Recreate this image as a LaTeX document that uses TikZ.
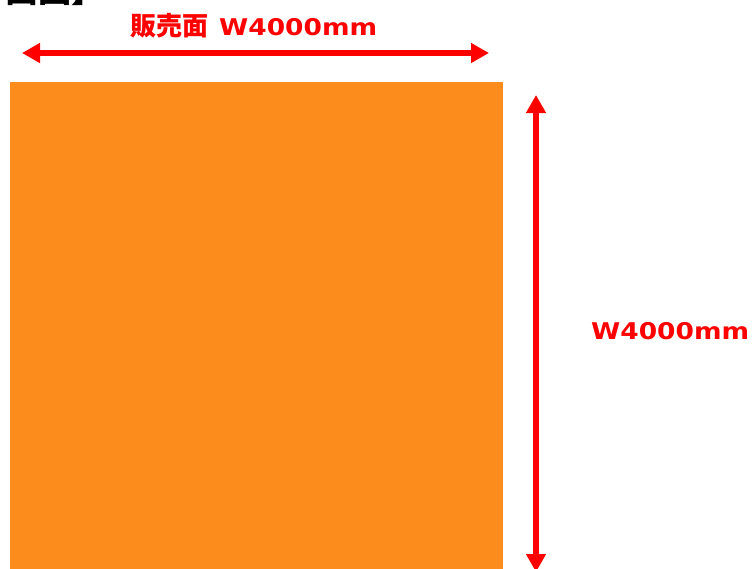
\documentclass[tikz,border=0pt]{standalone}
\usepackage{fontspec}
\setmainfont{DejaVu Sans}
\newfontfamily\jpfont{Noto Sans CJK JP}
\usetikzlibrary{arrows.meta}
\definecolor{boxorange}{RGB}{252,140,28}
\definecolor{dimred}{RGB}{255,0,0}
\tikzset{
  dimarrow/.style={draw=dimred, line width=6pt, {Triangle[length=18pt,width=19pt]}-{Triangle[length=18pt,width=19pt]}},
  dimlabel/.style={text=dimred, font=\fontsize{23}{26}\selectfont\bfseries, inner sep=0pt},
}
\begin{document}
\begin{tikzpicture}[x=1pt,y=-1pt]
\useasboundingbox (0,0) rectangle (752,568);
\begin{scope}
\clip (0,0) rectangle (752,568);
\node[anchor=base west, inner sep=0pt, font=\jpfont\fontsize{33}{36}\selectfont\bfseries] (title) at (5,2) {面図】};
\fill[boxorange] (10,82) rectangle (503,580);
\coordinate (hl) at (22,53);
\coordinate (hr) at (489,53);
\coordinate (vt) at (536,95);
\coordinate (vb) at (536,572);
\draw[dimarrow] (hl) -- (hr);
\draw[dimarrow] (vt) -- (vb);
\end{scope}
\node[dimlabel, anchor=base west] (toplabel) at (130,35) {{\jpfont\fontsize{26}{28}\selectfont 販売面}\hspace{3pt} \scalebox{1.15}[1]{W4000mm}};
\node[dimlabel, anchor=base west] (rightlabel) at (591,339) {\scalebox{1.15}[1]{W4000mm}};
\end{tikzpicture}
\end{document}
